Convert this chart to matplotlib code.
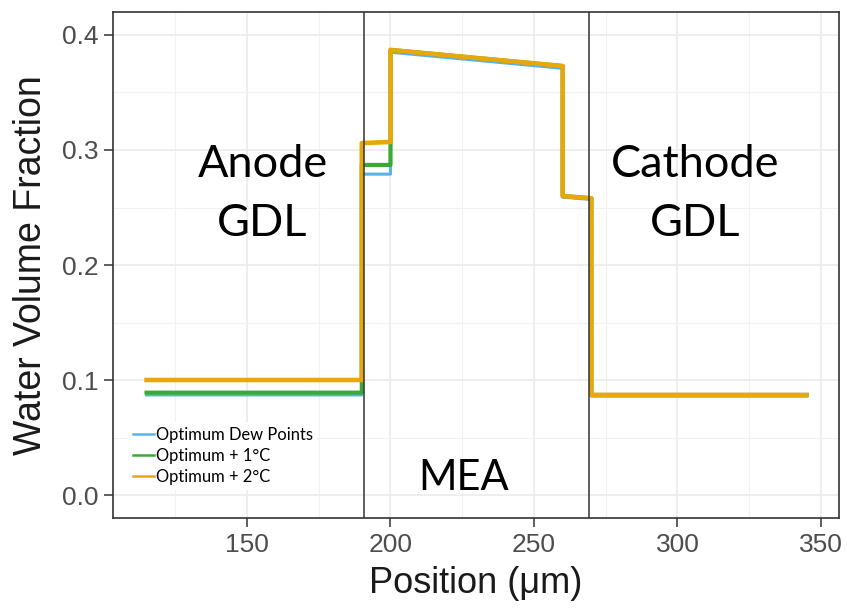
import numpy as np
import matplotlib.pyplot as plt

plt.rcParams['font.family'] = ['Liberation Sans', 'DejaVu Sans']

# position (um) of the profile break points, shared by the three cases
posicion = [115, 190, 190, 200, 200, 260, 260, 270, 270, 345]

fraccion_optimo = [0.087, 0.087, 0.279, 0.279, 0.385, 0.371, 0.259, 0.257, 0.086, 0.086]
fraccion_mas1 = [0.089, 0.089, 0.287, 0.287, 0.387, 0.373, 0.260, 0.258, 0.087, 0.087]
fraccion_mas2 = [0.100, 0.100, 0.306, 0.307, 0.387, 0.373, 0.260, 0.258, 0.087, 0.087]

nombres = ['Optimum Dew Points', 'Optimum + 1°C', 'Optimum + 2°C']
colores = ['#56B4E9', '#3AAA35', '#E8A80C']

limites_capas = [190.8, 269.3]

fig = plt.figure(figsize=(8.47, 6.15), dpi=100)
ax = fig.add_axes([0.1334, 0.1577, 0.8572, 0.8228])

series = [fraccion_optimo, fraccion_mas1, fraccion_mas2]
anchos = [2.2, 3.0, 3.3]
for y, nombre, color, lw in zip(series, nombres, colores, anchos):
    ax.plot(posicion, y, color=color, lw=lw, label=nombre,
            solid_joinstyle='round', zorder=3)

for xl in limites_capas:
    ax.axvline(xl, color='#333333', lw=1.1, zorder=4)

ax.set_xlim(103.3, 356.3)
ax.set_ylim(-0.02, 0.42)
ax.set_xticks([150, 200, 250, 300, 350])
ax.set_yticks([0.0, 0.1, 0.2, 0.3, 0.4])
ax.set_yticklabels(['0.0', '0.1', '0.2', '0.3', '0.4'])
ax.set_xticks([125, 175, 225, 275, 325], minor=True)
ax.set_yticks([0.05, 0.15, 0.25, 0.35], minor=True)
ax.grid(True, which='major', color='#EBEBEB', lw=1.2, zorder=0)
ax.grid(True, which='minor', color='#F2F2F2', lw=0.8, zorder=0)
ax.set_axisbelow(True)
ax.tick_params(which='major', length=6.5, width=1.1, color='#333333',
               labelsize=19, labelcolor='#4D4D4D', pad=4)
ax.tick_params(which='minor', length=0)
for s in ax.spines.values():
    s.set_color('#333333')
    s.set_linewidth(1.2)

ax.set_xlabel('Position (μm)', fontsize=26, color='#1A1A1A', labelpad=7)
ax.set_ylabel('Water Volume Fraction', fontsize=27, color='#1A1A1A', labelpad=9)

fuente = 'Lato'
ax.text(155.4, 0.2765, 'Anode', fontsize=32.5, family=fuente, ha='center',
        va='baseline', zorder=5)
ax.text(155.4, 0.2252, 'GDL', fontsize=32.5, family=fuente, ha='center',
        va='baseline', zorder=5)
ax.text(306.1, 0.2765, 'Cathode', fontsize=32.5, family=fuente, ha='center',
        va='baseline', zorder=5)
ax.text(306.1, 0.2252, 'GDL', fontsize=32.5, family=fuente, ha='center',
        va='baseline', zorder=5)
ax.text(225.3, 0.0043, 'MEA', fontsize=30, family=fuente, ha='center',
        va='baseline', zorder=5)

leg = ax.legend(loc='upper left', bbox_to_anchor=(0.021, 0.190), frameon=True,
                handlelength=1.23, handletextpad=0.12, labelspacing=0.3,
                borderpad=0.3, borderaxespad=0.0,
                prop={'family': fuente, 'size': 11.9})
leg.get_frame().set_edgecolor('none')
leg.get_frame().set_facecolor('white')
leg.get_frame().set_alpha(1)
leg.set_zorder(6)
for l in leg.get_lines():
    l.set_linewidth(1.8)

fig.savefig('out.png', dpi=100)
